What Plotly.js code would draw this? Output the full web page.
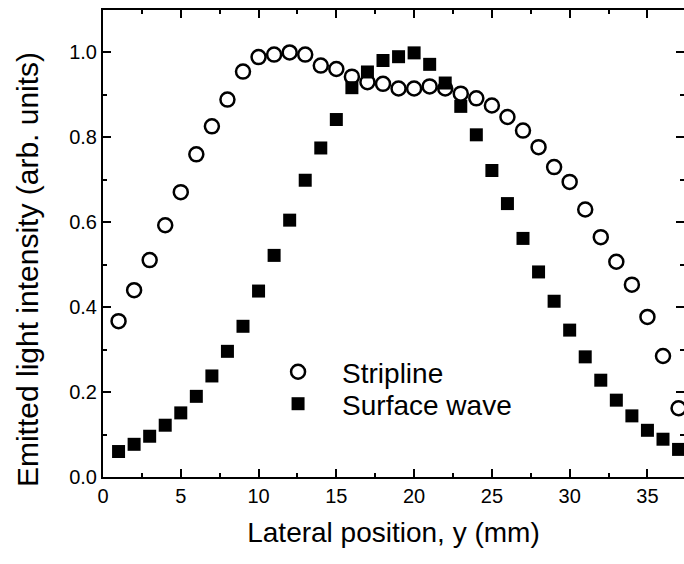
<!DOCTYPE html>
<html>
<head>
<meta charset="utf-8">
<script src="https://cdn.plot.ly/plotly-3.0.1.min.js"></script>
<style>html,body{margin:0;padding:0;background:#fff;}#chart{width:684px;height:564px;}</style>
</head>
<body>
<div id="chart"></div>
<script>
const positions = [1,2,3,4,5,6,7,8,9,10,11,12,13,14,15,16,17,18,19,20,21,22,23,24,25,26,27,28,29,30,31,32,33,34,35,36,37];
const stripline = [0.367,0.44,0.511,0.593,0.671,0.76,0.826,0.889,0.955,0.989,0.995,1.0,0.995,0.969,0.961,0.943,0.93,0.926,0.915,0.915,0.92,0.915,0.903,0.892,0.875,0.848,0.816,0.777,0.73,0.695,0.63,0.565,0.507,0.453,0.377,0.285,0.162];
const surfaceWave = [0.06,0.077,0.096,0.122,0.151,0.19,0.238,0.296,0.355,0.438,0.522,0.605,0.699,0.775,0.842,0.917,0.954,0.981,0.99,0.999,0.972,0.928,0.873,0.806,0.722,0.644,0.562,0.483,0.414,0.346,0.283,0.228,0.181,0.144,0.11,0.089,0.065];
const xTicks = [0,5,10,15,20,25,30,35];
const yTicks = [0.0,0.2,0.4,0.6,0.8,1.0];
const yTickText = ['0.0','0.2','0.4','0.6','0.8','1.0'];
const xTitle = 'Lateral position, y (mm)';
const yTitle = 'Emitted light intensity (arb. units)';

const FONT = 'Liberation Sans, Arial, Helvetica, sans-serif';
const data = [
  {x: positions, y: stripline, name: 'Stripline', type: 'scatter', mode: 'markers', legend: 'legend',
   marker: {symbol: 'circle-open', size: 14, color: '#000', line: {width: 2.5, color: '#000'}}},
  {x: positions, y: surfaceWave, name: 'Surface wave', type: 'scatter', mode: 'markers', legend: 'legend2',
   marker: {symbol: 'square', size: 13, color: '#000', line: {width: 0}}}
];
const axisCommon = {
  showline: true, linecolor: '#000', linewidth: 2, mirror: 'ticks',
  ticks: 'inside', ticklen: 8, tickwidth: 2, tickcolor: '#000',
  showgrid: false, zeroline: false,
  tickfont: {family: FONT, size: 20, color: '#000'}
};
const legendCommon = {xanchor: 'left', yanchor: 'middle', bgcolor: 'rgba(0,0,0,0)',
  font: {family: FONT, size: 28, color: '#000'}, itemwidth: 78};
const layout = {
  width: 684, height: 564,
  margin: {l: 103, r: 0, t: 10, b: 87, pad: 0},
  paper_bgcolor: '#fff', plot_bgcolor: '#fff',
  showlegend: true,
  legend: Object.assign({}, legendCommon, {x: 0.26, y: 0.2248}),
  legend2: Object.assign({}, legendCommon, {x: 0.26, y: 0.1563}),
  xaxis: Object.assign({}, axisCommon, {
    range: [0, 37.35], tickmode: 'array', tickvals: xTicks,
    minor: {ticks: 'inside', ticklen: 4, tickwidth: 2, tickcolor: '#000', dtick: 2.5, tick0: 0},
    title: {text: xTitle, font: {family: FONT, size: 28, color: '#000'}, standoff: 16}
  }),
  yaxis: Object.assign({}, axisCommon, {
    range: [0, 1.1], tickmode: 'array', tickvals: yTicks, ticktext: yTickText,
    minor: {ticks: 'inside', ticklen: 4, tickwidth: 2, tickcolor: '#000', dtick: 0.1, tick0: 0}
  }),
  annotations: [{
    text: yTitle, xref: 'paper', yref: 'paper', x: -0.131, y: 0.445,
    xanchor: 'center', yanchor: 'middle', textangle: -90, showarrow: false,
    font: {family: FONT, size: 30, color: '#000'}
  }]
};
Plotly.newPlot('chart', data, layout, {staticPlot: true, displayModeBar: false});
</script>
</body>
</html>
